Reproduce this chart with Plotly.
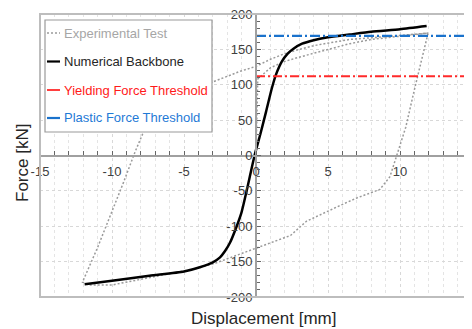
import plotly.graph_objects as go

# ---------------- data ----------------
exp_x = [0, 0.05, 0.12, 1.0, 2.0, 3.0, 4.5, 6.5, 8.0, 10.0, 11.95,
         11.0, 10.4, 9.9, 9.3, 8.6, 7.0, 5.8, 4.4, 3.5, 2.4, 1.2, 0.05, -1.0, -2.0, -2.8,
         -4.0, -6.0, -8.0, -10.0, -11.6, -12.05,
         -11.0, -10.1, -9.2, -8.4, -7.8, -5.5, -3.0, -1.1, 0.0, 1.0, 2.0, 3.0, 4.2, 6.5, 9.5, 11.95]
exp_y = [0, 55, 108, 124, 133, 139, 147, 158, 164, 169, 173,
         93, 40, 8, -30, -48, -60, -71, -85, -93, -113, -122, -130, -139, -146, -152,
         -159, -167, -175, -183, -183, -179,
         -130, -85, -38, 5, 34, 80, 104, 119, 126, 136, 144, 150, 156, 164, 169, 173]

bb_x = [-11.9, -10.0, -7.4, -5.0, -3.9, -3.0, -2.5, -2.15, -1.8, -1.34, -1.0, -0.65, -0.1,
        0.3, 0.7, 1.1, 1.4, 1.8, 2.2, 2.6, 3.2, 4.0, 5.0, 6.5, 8.0, 10.0, 11.85]
bb_y = [-182, -177, -170, -164, -158, -151, -144, -135, -123, -100, -80, -50, 0,
        30, 62, 95, 115, 133, 144, 151, 158, 163, 167, 171, 175, 178.5, 183]

yield_force = 112
plastic_force = 169
thr_x = [0, 15]

x_ticks = [-15, -10, -5, 0, 5, 10, 15]
x_tick_labels = ["-15", "-10", "-5", "0", "5", "10", "15"]
y_ticks = [-200, -150, -100, -50, 0, 50, 100, 150, 200]
y_tick_labels = ["-200", "-150", "-100", "-50", "0", "50", "100", "150", "200"]

legend_names = ["Experimental Test", "Numerical Backbone",
                "Yielding Force Threshold", "Plastic Force Threshold"]
legend_colors = ["#a6a6a6", "#262626", "#ff1a1a", "#1f7ad6"]
line_colors = ["#9a9a9a", "#000000", "#ff2a2a", "#1a72cc"]
line_dashes = ["2px,2px", "solid", "9px,3px,2px,3px", "10px,3px,2px,3px"]
line_widths = [1.5, 2.5, 1.8, 2.2]

# ---------------- figure ----------------
# the page body keeps its default 8px margin, so the figure is drawn 8px smaller
OFF = 8
W, H = 472 - OFF, 329 - OFF
PX0, PX1, PY0, PY1 = 40, 472, 14, 297      # plot area in page pixels
L, T = PX0 - OFF, PY0 - OFF
PW, PH = PX1 - PX0, PY1 - PY0
R, B = W - L - PW, H - T - PH


def px(x):
    return (x - PX0) / PW


def py(y):
    return (PY1 - y) / PH


fig = go.Figure()
fig.add_trace(go.Scatter(x=exp_x, y=exp_y, mode="lines", name=legend_names[0],
                         line=dict(color=line_colors[0], width=line_widths[0], dash=line_dashes[0])))
fig.add_trace(go.Scatter(x=bb_x, y=bb_y, mode="lines", name=legend_names[1],
                         line=dict(color=line_colors[1], width=line_widths[1], shape="spline", smoothing=0.6)))
fig.add_trace(go.Scatter(x=thr_x, y=[yield_force] * 2, mode="lines", name=legend_names[2],
                         line=dict(color=line_colors[2], width=line_widths[2], dash=line_dashes[2])))
fig.add_trace(go.Scatter(x=thr_x, y=[plastic_force] * 2, mode="lines", name=legend_names[3],
                         line=dict(color=line_colors[3], width=line_widths[3], dash=line_dashes[3])))

FONT = "Liberation Sans, Arial, sans-serif"
tickfont = dict(family=FONT, size=13, color="#404040")

fig.update_layout(
    width=W, height=H,
    margin=dict(l=L, r=R, t=T, b=B, pad=0, autoexpand=False),
    plot_bgcolor="white", paper_bgcolor="white",
    showlegend=False,
    font=dict(family=FONT, size=13, color="#404040"),
    xaxis=dict(range=[-15, 15], anchor="free", position=0.5, automargin=False,
               tickvals=x_ticks, ticktext=x_tick_labels, ticklabeloverflow="allow",
               ticks="inside", ticklen=4, tickcolor="#666", tickwidth=1,
               showline=True, linecolor="#a0a0a0", linewidth=2,
               showgrid=True, gridcolor="#d8d8d8", griddash="dot", gridwidth=1,
               zeroline=False, tickfont=tickfont, ticklabelstandoff=4,
               minor=dict(dtick=1, ticks="inside", ticklen=4, tickcolor="#666",
                          showgrid=True, gridcolor="#e4e4e4", griddash="dot")),
    yaxis=dict(range=[-200, 200], anchor="free", position=0.5, automargin=False,
               tickvals=y_ticks, ticktext=y_tick_labels, ticklabeloverflow="allow",
               ticks="inside", ticklen=4, tickcolor="#666", tickwidth=1,
               showline=True, linecolor="#a0a0a0", linewidth=2,
               showgrid=True, gridcolor="#d8d8d8", griddash="dot", gridwidth=1,
               zeroline=False, tickfont=tickfont,
               minor=dict(dtick=10, ticks="inside", ticklen=3, tickcolor="#666", showgrid=False)),
)

shapes = []
# plot frame
shapes.append(dict(type="rect", xref="paper", yref="paper", x0=0, x1=1, y0=0, y1=1,
                   line=dict(color="#bdbdbd", width=2), layer="above"))
# legend box
lx0, lx1, ly0, ly1 = 45, 212, 20, 132
shapes.append(dict(type="rect", xref="paper", yref="paper", x0=px(lx0), x1=px(lx1),
                   y0=py(ly1), y1=py(ly0), fillcolor="white",
                   line=dict(color="#9a9a9a", width=1.2), layer="above"))
entry_y = [33, 61.5, 90, 118]
annotations = []
for i, name in enumerate(legend_names):
    shapes.append(dict(type="line", xref="paper", yref="paper",
                       x0=px(47), x1=px(60), y0=py(entry_y[i]), y1=py(entry_y[i]),
                       line=dict(color=line_colors[i], width=min(line_widths[i], 2.2),
                                 dash="2px,2px" if i == 0 else "solid"), layer="above"))
    annotations.append(dict(text=name, xref="paper", yref="paper", x=px(62), y=py(entry_y[i]),
                            xanchor="left", yanchor="middle", showarrow=False,
                            font=dict(family=FONT, size=13, color=legend_colors[i])))

annotations.append(dict(text="Displacement [mm]", xref="paper", yref="paper",
                        x=px(263), y=py(318), xanchor="center", yanchor="middle", showarrow=False,
                        font=dict(family=FONT, size=17, color="#262626")))
annotations.append(dict(text="Force [kN]", xref="paper", yref="paper", textangle=-90,
                        x=px(22), y=py(163), xanchor="center", yanchor="middle", showarrow=False,
                        font=dict(family=FONT, size=17, color="#262626")))

fig.update_layout(shapes=shapes, annotations=annotations)

fig.write_html("out.html")
